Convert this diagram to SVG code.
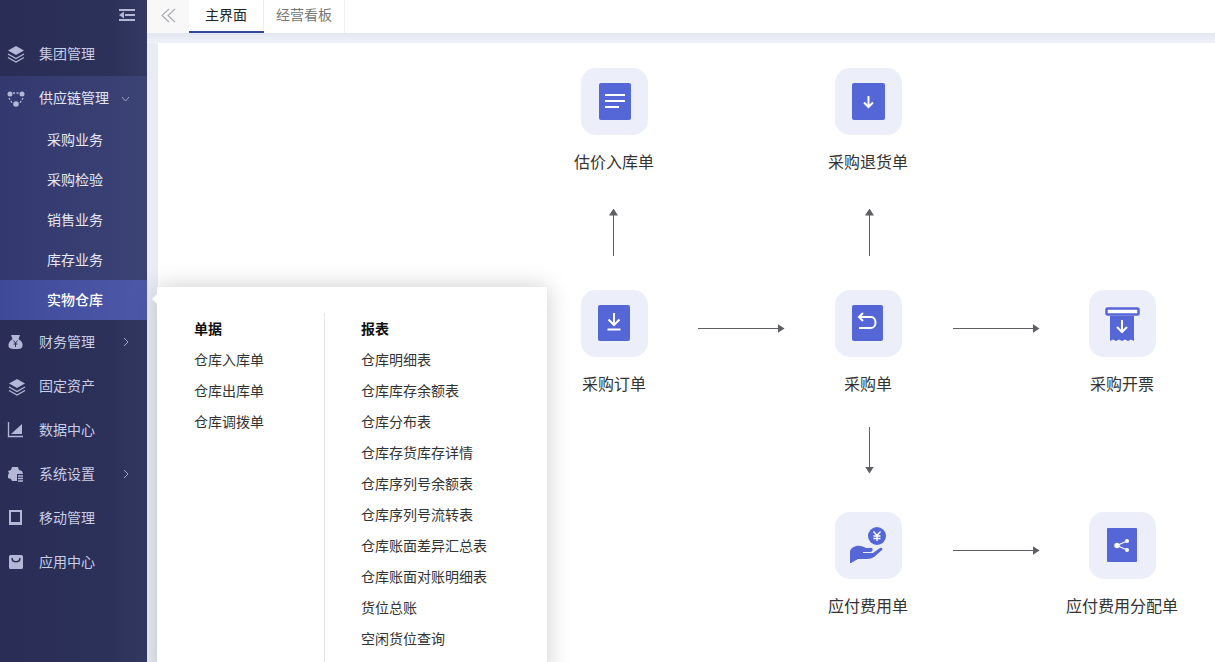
<svg xmlns="http://www.w3.org/2000/svg" width="1215" height="662" viewBox="0 0 1215 662">
<defs>
<linearGradient id="side" x1="0" y1="0" x2="1" y2="0"><stop offset="0" stop-color="#2a2e56"/><stop offset="0.75" stop-color="#2c3159"/><stop offset="1" stop-color="#333962"/></linearGradient>
<linearGradient id="active" x1="0" y1="0" x2="1" y2="0"><stop offset="0" stop-color="#3f4a99"/><stop offset="1" stop-color="#4d58a9"/></linearGradient>
<linearGradient id="subbg" x1="0" y1="0" x2="1" y2="0"><stop offset="0" stop-color="#33396f"/><stop offset="1" stop-color="#3b4274"/></linearGradient>
<linearGradient id="band" x1="0" y1="0" x2="0" y2="1"><stop offset="0" stop-color="#e2e6f0"/><stop offset="1" stop-color="#f0f2f8"/></linearGradient>
<filter id="shadow" x="-15%" y="-15%" width="130%" height="130%"><feGaussianBlur stdDeviation="12"/></filter>
<marker id="arrow" markerWidth="7" markerHeight="9" refX="6.500" refY="4.500" orient="auto" markerUnits="userSpaceOnUse"><path d="M0 0L7 4.500L0 9Z" fill="#5f5f63"/></marker>
</defs>
<style>
text{font-family:"Noto Sans CJK SC","Liberation Sans",sans-serif}
.m{font-size:14px;fill:#c9cde6}
.s{font-size:14px;fill:#e6e8f6;text-anchor:middle}
.l{font-size:16px;fill:#333;text-anchor:middle}
.p{font-size:14px;fill:#333}
.h{font-size:14px;fill:#111;font-weight:700}
.tile{fill:#eceef9}
.ic{fill:#5566d6}
.w{fill:none;stroke:#fff;stroke-width:2}
.mi{fill:#b4b8d6}
.mis{fill:none;stroke:#b4b8d6;stroke-width:1.300}
.c{fill:none;stroke:#5f5f63;stroke-width:1;marker-end:url(#arrow)}
</style>
<rect width="1215" height="662" fill="#fff"/>
<rect x="147" y="33" width="1068" height="629" fill="#e9ecf4"/>
<rect x="147" y="33" width="1068" height="10" fill="url(#band)"/>
<rect x="158" y="43" width="1057" height="619" fill="#fff"/>
<g id="tabs">
<rect x="147" y="0" width="1068" height="33" fill="#fff"/>
<rect x="147" y="0" width="42" height="33" fill="#f8f8f9"/>
<path d="M175 9L168 15.500L175 22M169 9L162 15.500L169 22" fill="none" stroke="#a8a8ae" stroke-width="1.100"/>
<text x="226" y="20" font-size="14" fill="#222" text-anchor="middle">主界面</text>
<rect x="189" y="31" width="75" height="2" fill="#324a9e"/>
<rect x="263" y="0" width="1" height="31" fill="#eee"/>
<text x="304" y="20" font-size="14" fill="#777" text-anchor="middle">经营看板</text>
<rect x="344" y="0" width="1" height="33" fill="#f0f0f0"/>
</g>
<g id="sidebar">
<rect width="147" height="662" fill="url(#side)"/>
<rect y="76" width="147" height="204" fill="url(#subbg)"/>
<rect y="280" width="147" height="40" fill="url(#active)"/>
<path d="M119 10H135M125 15H135M119 20H135" stroke="#b4b8d6" stroke-width="1.800" fill="none"/>
<path d="M119 15L124 11.500V18.500Z" fill="#b4b8d6"/>
</g>
<g id="menu-jituan"><path class="mi" d="M16 46L24 50.500L16 55L8 50.500Z"/><path class="mis" d="M8 54L16 58.500L24 54M8 57.500L16 62L24 57.500"/><text class="m" x="39" y="59">集团管理</text></g>
<g id="menu-gongying"><circle class="mi" cx="10" cy="94" r="2.500"/><circle class="mi" cx="22" cy="94" r="2.500"/><circle class="mi" cx="16" cy="104" r="2.800"/><path class="mis" stroke-dasharray="2 1.500" d="M13 93H19M9 98L12 103M23 98L20 103"/><text class="m" x="39" y="103" style="fill:#e3e5f5">供应链管理</text><path d="M122 97L125.500 101L129 97" fill="none" stroke="#9fa4c8" stroke-width="1"/></g>
<g id="sub-1"><text class="s" x="75" y="145">采购业务</text></g>
<g id="sub-2"><text class="s" x="75" y="185">采购检验</text></g>
<g id="sub-3"><text class="s" x="75" y="225">销售业务</text></g>
<g id="sub-4"><text class="s" x="75" y="265">库存业务</text></g>
<g id="sub-5"><text class="s" x="75" y="305" style="fill:#fff;font-weight:500">实物仓库</text></g>
<g id="menu-caiwu"><path class="mi" d="M11 335H20L18.500 339C22 341 23 344 22.500 346C22 349 19 349 16 349C12 349 9 349 8.500 346C8 344 9.500 341 12.500 339Z"/><path d="M13.500 340.500L15.500 343L17.500 340.500M15.500 343V347M13.500 344H17.500" fill="none" stroke="#2c3159" stroke-width="1"/><text class="m" x="39" y="347">财务管理</text><path d="M124 338L128 342L124 346" fill="none" stroke="#9fa4c8" stroke-width="1"/></g>
<g id="menu-guding"><path class="mi" d="M17 379L25 383.500L17 388L9 383.500Z"/><path class="mis" d="M9 387L17 391.500L25 387M9 390.500L17 395L25 390.500"/><text class="m" x="39" y="391">固定资产</text></g>
<g id="menu-shuju"><path class="mi" d="M22 424V434H11Z"/><path class="mis" d="M8.500 422V436.500H23"/><text class="m" x="39" y="435">数据中心</text></g>
<g id="menu-xitong"><path class="mi" d="M12 467H18L19 470L22 471L23 474H17V481H12L11 479L8 478V475L9 473L8 471L11 470Z"/><path class="mis" d="M18 476H23M18 478.500H23M18 481H23"/><text class="m" x="39" y="479">系统设置</text><path d="M124 470L128 474L124 478" fill="none" stroke="#9fa4c8" stroke-width="1"/></g>
<g id="menu-yidong"><rect x="10" y="511" width="11" height="12" fill="none" stroke="#b4b8d6" stroke-width="2"/><rect class="mi" x="9" y="522" width="13" height="3"/><text class="m" x="39" y="523">移动管理</text></g>
<g id="menu-yingyong"><rect class="mi" x="9" y="555" width="14" height="14" rx="1.500"/><path d="M12 558C12 563 20 563 20 558" fill="none" stroke="#2c3159" stroke-width="1.500"/><text class="m" x="39" y="567">应用中心</text></g>
<g id="connectors">
<path class="c" d="M613.500 256V209"/>
<path class="c" d="M869.500 256V209"/>
<path class="c" d="M698 328.500H784"/>
<path class="c" d="M953 328.500H1039"/>
<path class="c" d="M869.500 427V473"/>
<path class="c" d="M953 550.500H1039"/>
</g>
<g id="node-gujia"><rect class="tile" x="581" y="68" width="67" height="67" rx="15"/><rect class="ic" x="599" y="83" width="32" height="37" rx="2"/><path class="w" d="M605 95H625M605 101H625M605 107H619"/><text class="l" x="614" y="168">估价入库单</text></g>
<g id="node-tuihuo"><rect class="tile" x="835" y="68" width="67" height="67" rx="15"/><rect class="ic" x="852" y="83" width="33" height="37" rx="2"/><path class="w" d="M868.500 96V107M864 102.500L868.500 107L873 102.500"/><text class="l" x="868" y="168">采购退货单</text></g>
<g id="node-dingdan"><rect class="tile" x="581" y="290" width="67" height="67" rx="15"/><rect class="ic" x="598" y="305" width="32" height="36" rx="2"/><path class="w" d="M614 313V325M608.500 319.500L614 325L619.500 319.500M607.500 329.500H620.500"/><text class="l" x="614" y="390">采购订单</text></g>
<g id="node-caigou"><rect class="tile" x="835" y="290" width="67" height="67" rx="15"/><rect class="ic" x="852" y="305" width="31" height="36" rx="2"/><path class="w" d="M863 313L859 317L863 321M859 317H871C877 317 877 328 871 328H859"/><text class="l" x="868" y="390">采购单</text></g>
<g id="node-kaipiao"><rect class="tile" x="1089" y="290" width="67" height="67" rx="15"/><path class="ic" d="M1110 316H1134V341L1131 339.500L1128 341L1125 339.500L1122 341L1119 339.500L1116 341L1113 339.500L1110 341Z"/><rect x="1106.500" y="308.500" width="32" height="6" rx="1" fill="#fff" stroke="#5566d6" stroke-width="2.500"/><path class="w" d="M1122 320V332M1117 327L1122 332L1127 327"/><text class="l" x="1122" y="390">采购开票</text></g>
<g id="node-yingfu"><rect class="tile" x="835" y="512" width="67" height="67" rx="15"/><circle class="ic" cx="877" cy="536" r="9"/><path class="w" d="M873.500 531.500L877 535.500L880.500 531.500M877 535.500V541M873.500 536H880.500M873.500 538.500H880.500" style="stroke-width:1.400"/><path class="ic" d="M850 563V552C850 549 853 547 856 546C860 545 864 547 866 548H872C873 549 873 551 871 552H863V553H873L880 548C882 547 883 549 882 550L874 557C872 558 870 559 867 559H858L851 563Z"/><text class="l" x="868" y="612">应付费用单</text></g>
<g id="node-fenpei"><rect class="tile" x="1089" y="512" width="67" height="67" rx="15"/><rect class="ic" x="1107" y="528" width="30" height="34" rx="1"/><circle cx="1117" cy="545.500" r="2.700" fill="#fff"/><circle cx="1127" cy="541" r="2" fill="#fff"/><circle cx="1127" cy="550" r="2" fill="#fff"/><path d="M1117 545.500L1127 541M1117 545.500L1127 550" stroke="#fff" stroke-width="1.200"/><text class="l" x="1122" y="612">应付费用分配单</text></g>
<g id="popup">
<rect x="157" y="287" width="390" height="390" fill="#000" opacity="0.2" filter="url(#shadow)"/>
<rect x="157" y="287" width="390" height="375" fill="#fff"/>
<path d="M157 294L152 299L157 304Z" fill="#fff"/>
<rect x="324" y="313" width="1" height="349" fill="#e6e6e6"/>
<text class="h" x="194" y="334">单据</text>
<text class="p" x="194" y="365">仓库入库单</text>
<text class="p" x="194" y="396">仓库出库单</text>
<text class="p" x="194" y="427">仓库调拨单</text>
<text class="h" x="361" y="334">报表</text>
<text class="p" x="361" y="365">仓库明细表</text>
<text class="p" x="361" y="396">仓库库存余额表</text>
<text class="p" x="361" y="427">仓库分布表</text>
<text class="p" x="361" y="458">仓库存货库存详情</text>
<text class="p" x="361" y="489">仓库序列号余额表</text>
<text class="p" x="361" y="520">仓库序列号流转表</text>
<text class="p" x="361" y="551">仓库账面差异汇总表</text>
<text class="p" x="361" y="582">仓库账面对账明细表</text>
<text class="p" x="361" y="613">货位总账</text>
<text class="p" x="361" y="644">空闲货位查询</text>
</g>
</svg>
